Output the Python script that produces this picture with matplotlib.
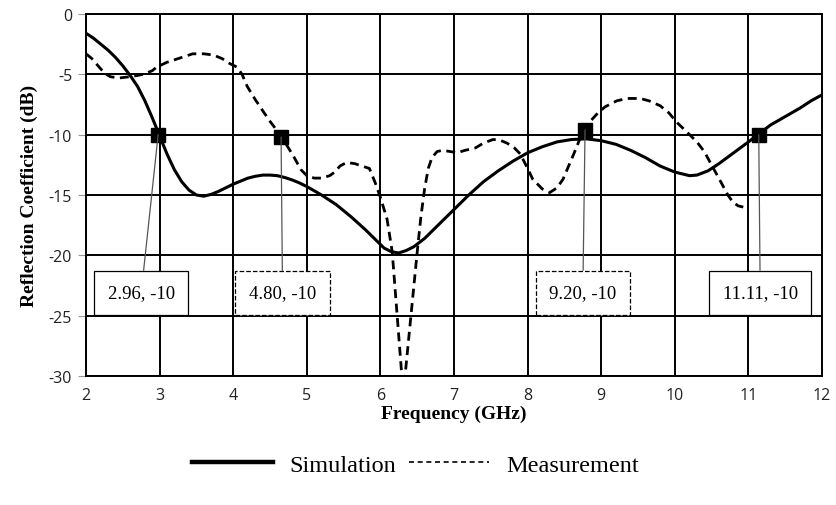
import matplotlib
matplotlib.use("Agg")
import matplotlib.pyplot as plt
from matplotlib.lines import Line2D

plt.rcParams['axes.unicode_minus'] = False

# simulated reflection coefficient (solid)
sim_freq = [2.0, 2.1, 2.2, 2.3, 2.4, 2.5, 2.6, 2.7, 2.8, 2.9, 3.0, 3.1, 3.2, 3.3, 3.4,
            3.5, 3.6, 3.7, 3.8, 3.9, 4.0, 4.1, 4.2, 4.3, 4.4, 4.5, 4.6, 4.7, 4.8, 4.9,
            5.0, 5.2, 5.4, 5.6, 5.8, 5.95, 6.05, 6.15, 6.25, 6.35, 6.45, 6.6, 6.8, 7.0,
            7.2, 7.4, 7.6, 7.8, 8.0, 8.2, 8.4, 8.6, 8.8, 9.0, 9.2, 9.4, 9.6, 9.8, 10.0,
            10.2, 10.3, 10.45, 10.6, 10.8, 11.0, 11.15, 11.3, 11.5, 11.7, 11.85, 12.0]
sim_db = [-1.6, -2.0, -2.5, -3.0, -3.6, -4.3, -5.1, -6.0, -7.2, -8.6, -10.1, -11.6,
          -12.9, -13.9, -14.6, -15.0, -15.1, -14.95, -14.7, -14.4, -14.1, -13.85, -13.6,
          -13.45, -13.35, -13.35, -13.4, -13.55, -13.75, -14.0, -14.3, -15.0, -15.8,
          -16.8, -17.9, -18.8, -19.4, -19.7, -19.8, -19.6, -19.3, -18.6, -17.4, -16.2,
          -15.0, -13.9, -13.0, -12.2, -11.5, -11.0, -10.6, -10.4, -10.35, -10.5, -10.8,
          -11.3, -11.9, -12.6, -13.1, -13.4, -13.35, -13.0, -12.4, -11.5, -10.6, -9.9,
          -9.2, -8.5, -7.8, -7.2, -6.7]

# measured reflection coefficient (dashed)
meas_freq = [2.0, 2.08, 2.15, 2.25, 2.33, 2.45, 2.6, 2.78, 2.9, 2.96, 3.1, 3.25, 3.45,
             3.6, 3.73, 3.85, 3.95, 4.05, 4.12, 4.19, 4.3, 4.41, 4.5, 4.6, 4.7, 4.82,
             4.92, 5.0, 5.1, 5.2, 5.31, 5.38, 5.45, 5.54, 5.65, 5.75, 5.85, 5.93, 6.0,
             6.09, 6.16, 6.31, 6.5, 6.55, 6.6, 6.65, 6.7, 6.77, 6.84, 6.95, 7.04, 7.15,
             7.29, 7.4, 7.53, 7.62, 7.72, 7.82, 7.9, 8.0, 8.07, 8.2, 8.3, 8.4, 8.48,
             8.55, 8.62, 8.7, 8.75, 8.85, 8.94, 9.05, 9.21, 9.35, 9.53, 9.65, 9.8, 9.92,
             10.03, 10.15, 10.3, 10.4, 10.48, 10.57, 10.65, 10.72, 10.79, 10.86, 10.93]
meas_db = [-3.3, -3.7, -4.2, -4.9, -5.2, -5.3, -5.2, -5.0, -4.7, -4.4, -4.0, -3.7, -3.3,
           -3.3, -3.4, -3.7, -4.1, -4.4, -5.0, -6.0, -7.1, -8.1, -8.9, -9.7, -10.6,
           -11.8, -12.9, -13.4, -13.6, -13.6, -13.4, -13.1, -12.6, -12.3, -12.4, -12.6,
           -12.8, -14.0, -15.2, -17.0, -19.7, -31.5, -19.7, -16.8, -14.5, -12.8, -11.9,
           -11.4, -11.3, -11.4, -11.5, -11.3, -11.1, -10.7, -10.4, -10.45, -10.7, -11.1,
           -11.6, -12.8, -13.7, -14.5, -14.8, -14.4, -13.7, -12.7, -11.7, -10.5, -9.8,
           -8.9, -8.3, -7.7, -7.2, -7.0, -7.0, -7.2, -7.6, -8.2, -9.0, -9.7, -10.6,
           -11.4, -12.3, -13.3, -14.2, -15.0, -15.6, -15.9, -16.0]

# -10 dB markers and their labels
mark_freq = [2.98, 4.65, 8.78, 11.14]
mark_db = [-10.0, -10.2, -9.6, -10.0]
mark_text = ['2.96, -10', '4.80, -10', '9.20, -10', '11.11, -10']
mark_box_x = [2.75, 4.67, 8.75, 11.16]
mark_box_y = -23.1
mark_box_style = ['solid', 'dashed', 'dashed', 'solid']

fig = plt.figure(figsize=(8.36, 5.06), dpi=100)
ax = fig.add_axes([0.1029, 0.2549, 0.8804, 0.7155])

ax.plot(sim_freq, sim_db, color='black', lw=2.2, zorder=3)
ax.plot(meas_freq, meas_db, color='black', lw=2.0, ls=(0, (3.2, 2.0)), zorder=3)
ax.plot(mark_freq, mark_db, ls='none', marker='s', ms=10, color='black', zorder=4)

for i in range(len(mark_text)):
    ax.annotate(mark_text[i], xy=(mark_freq[i], mark_db[i]),
                xytext=(mark_box_x[i], mark_box_y), ha='center', va='center',
                fontsize=13.5, family='Liberation Serif', zorder=5,
                bbox=dict(boxstyle='square,pad=0.72', fc='white', ec='black',
                          lw=0.9, ls=mark_box_style[i]),
                arrowprops=dict(arrowstyle='-', color='#555555', lw=0.9,
                                shrinkA=0, shrinkB=0))

ax.set_xlim(2, 12)
ax.set_ylim(-30, 0)
ax.set_xticks(range(2, 13))
ax.set_yticks(range(-30, 1, 5))
ax.grid(True, color='black', lw=1.4)
ax.set_axisbelow(True)
for s in ax.spines.values():
    s.set_color('black')
    s.set_linewidth(1.4)
ax.tick_params(axis='x', length=0, pad=8, labelsize=11.5)
ax.tick_params(axis='y', length=6, color='#999999', pad=4, labelsize=11.5)
for lab in ax.get_xticklabels() + ax.get_yticklabels():
    lab.set_family('Open Sans')
    lab.set_color('#222222')

ax.set_xlabel('Frequency (GHz)', family='Liberation Serif', fontweight='bold',
              fontsize=14, labelpad=1)
ax.set_ylabel('Reflection Coefficient (dB)', family='Liberation Serif',
              fontweight='bold', fontsize=14, labelpad=8)

handles = [Line2D([], [], color='black', lw=3.2),
           Line2D([], [], color='black', lw=1.2, ls=(0, (3, 2.2)))]
fig.legend(handles, ['Simulation', 'Measurement'], loc='center',
           bbox_to_anchor=(0.497, 0.08), ncol=2, frameon=False, handlelength=3.3,
           handletextpad=0.7, columnspacing=0.5,
           prop={'family': 'Liberation Serif', 'size': 17.5})

fig.savefig('out.png', dpi=100)
